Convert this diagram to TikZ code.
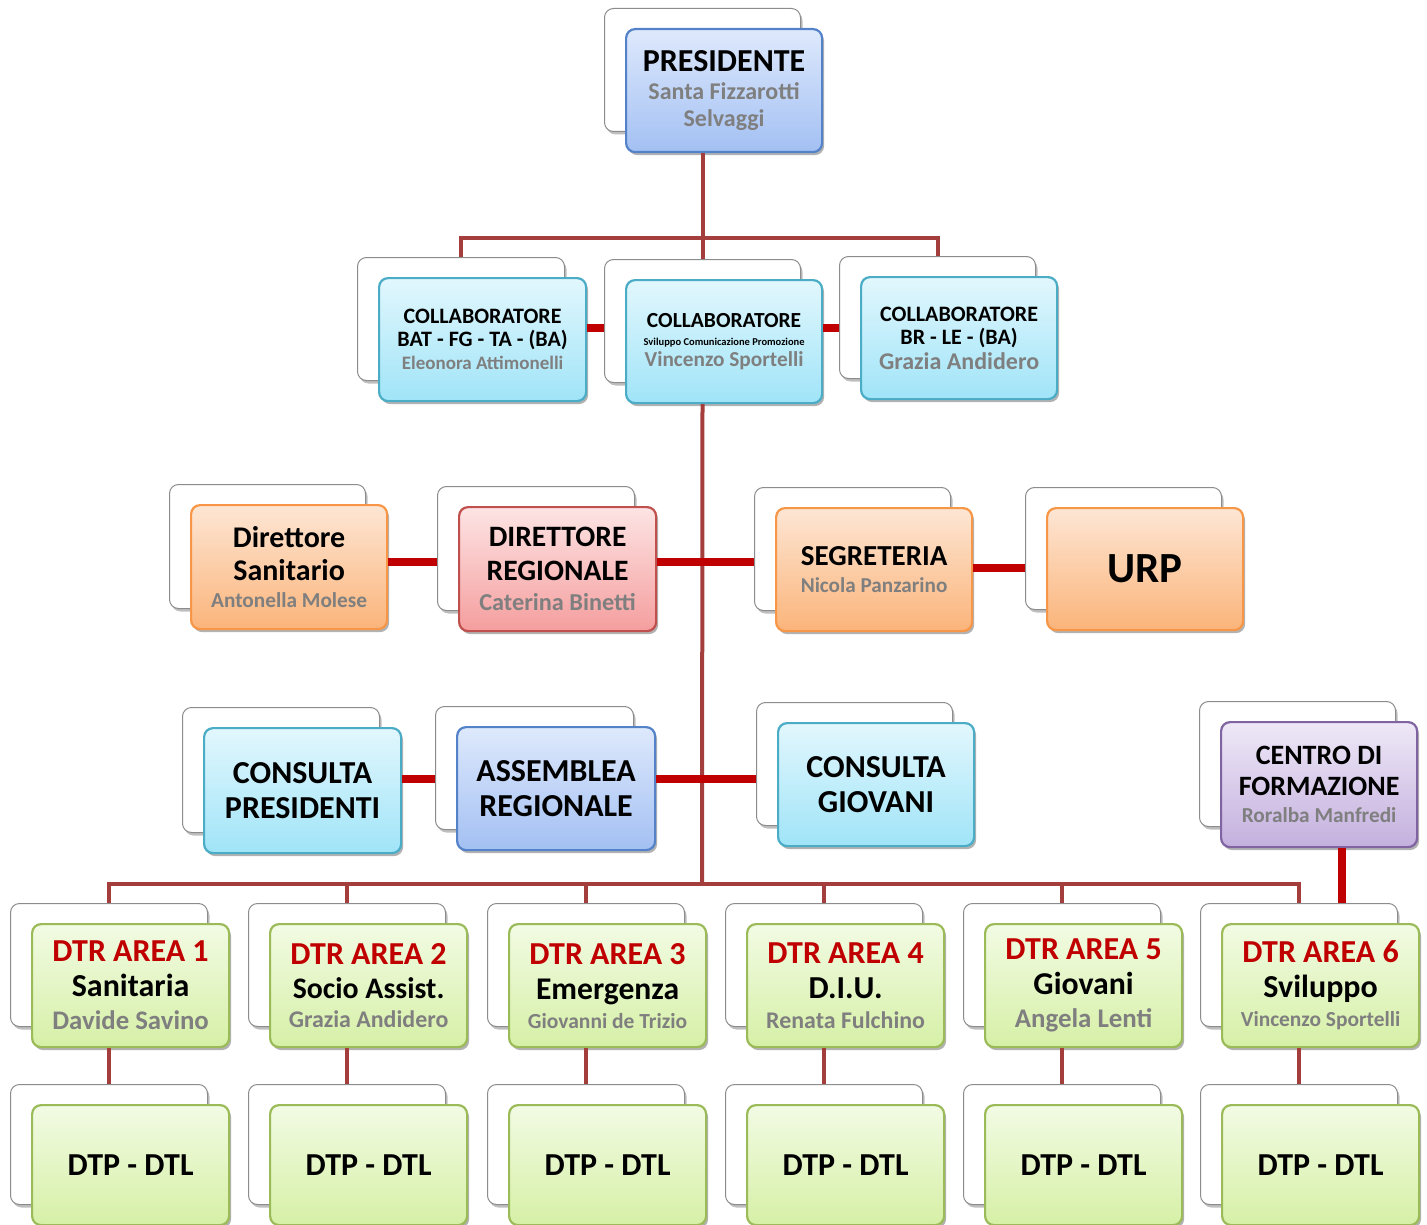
\documentclass[tikz,border=0pt]{standalone}
\usepackage{fontspec}
\setmainfont{Carlito}
\usetikzlibrary{shadows}
\definecolor{connc}{RGB}{163,62,60}
\definecolor{lnkc}{RGB}{192,0,0}
\definecolor{nm}{RGB}{127,127,127}
\definecolor{dtrc}{RGB}{192,0,0}
\definecolor{blueT}{RGB}{222,233,252}\definecolor{blueB}{RGB}{163,192,243}\definecolor{blueD}{RGB}{84,130,200}
\definecolor{cyanT}{RGB}{226,247,253}\definecolor{cyanB}{RGB}{160,228,248}\definecolor{cyanD}{RGB}{75,172,198}
\definecolor{orT}{RGB}{253,230,212}\definecolor{orB}{RGB}{251,180,122}\definecolor{orD}{RGB}{247,150,70}
\definecolor{rdT}{RGB}{253,228,228}\definecolor{rdB}{RGB}{245,158,158}\definecolor{rdD}{RGB}{192,80,77}
\definecolor{puT}{RGB}{238,232,247}\definecolor{puB}{RGB}{196,176,222}\definecolor{puD}{RGB}{128,100,162}
\definecolor{grT}{RGB}{242,251,228}\definecolor{grB}{RGB}{214,240,166}\definecolor{grD}{RGB}{155,187,89}
\newcommand\fsz[2]{\fontsize{#1}{#2}\selectfont}
\newcommand\gry[1]{\textcolor{nm}{#1}}
\tikzset{
  bx/.style={rounded corners=9pt, anchor=north west, inner sep=1pt},
  backbox/.style={bx, draw=black!45, line width=1pt, fill=white,
    drop shadow={shadow xshift=2pt, shadow yshift=-3pt, opacity=0.25, fill=black}},
  front/.style={bx, line width=2.2pt, align=center,
    drop shadow={shadow xshift=2pt, shadow yshift=-3pt, opacity=0.3, fill=black}},
  blueb/.style={front, draw=blueD, top color=blueT, bottom color=blueB},
  cyanb/.style={front, draw=cyanD, top color=cyanT, bottom color=cyanB},
  orb/.style={front, draw=orD, top color=orT, bottom color=orB},
  rdb/.style={front, draw=rdD, top color=rdT, bottom color=rdB},
  pub/.style={front, draw=puD, top color=puT, bottom color=puB},
  grb/.style={front, draw=grD, top color=grT, bottom color=grB},
  fnt/.style n args={2}{font=\bfseries\fontsize{#1}{#2}\selectfont},
  conn/.style={draw=connc, line width=4pt},
  lnk/.style={draw=lnkc, line width=8pt},
}
% name, x, y, w, h, style, text
\newcommand\card[7]{%
  \node[backbox, minimum width=#4pt, minimum height=#5pt] (b#1) at (#2-21,#3-20) {};
  \node[#6, minimum width=#4pt, minimum height=#5pt] (#1) at (#2,#3) {#7};
}
\begin{document}
\begin{tikzpicture}[x=1pt,y=-1pt]
\useasboundingbox (0,0) rectangle (1427,1225);
% top
\card{pres}{625}{28}{196}{123}{blueb,fnt={32}{28}}{PRESIDENTE\\[0pt]\fsz{24}{28}\gry{Santa Fizzarotti}\\[-1pt]\fsz{24}{28}\gry{Selvaggi}}
\card{c1}{378}{277}{207}{123}{cyanb,fnt={22}{23}}{COLLABORATORE\\BAT - FG - TA - (BA)\\\fsz{19}{23}\gry{Eleonora Attimonelli}}
\card{c2}{625}{279}{196}{123}{cyanb,fnt={21.5}{18}}{COLLABORATORE\\[0pt]\fsz{10.5}{18}Sviluppo Comunicazione Promozione\\[3pt]\fsz{21.3}{18}\gry{Vincenzo Sportelli}}
\card{c3}{860}{276}{196}{122}{cyanb,fnt={22}{23}}{COLLABORATORE\\BR - LE - (BA)\\[2pt]\fsz{24}{23}\gry{Grazia Andidero}}
% row 2
\card{ds}{190}{504}{196}{124}{orb,fnt={30}{33}}{Direttore\\Sanitario\\[-6pt]\fsz{21.3}{33}\gry{Antonella Molese}}
\card{dr}{458}{506}{197}{124}{rdb,fnt={29.6}{34}}{DIRETTORE\\REGIONALE\\[-4pt]\fsz{24.3}{34}\gry{Caterina Binetti}}
\card{seg}{775}{507}{196}{123}{orb,fnt={29}{27}}{SEGRETERIA\\\fsz{21.2}{27}\gry{Nicola Panzarino}}
\card{urp}{1046}{507}{196}{122}{orb,fnt={43}{43}}{URP}
% row 3
\card{cp}{203}{727}{197}{125}{cyanb,fnt={32}{35}}{CONSULTA\\PRESIDENTI}
\card{ar}{456}{726}{198}{123}{blueb,fnt={32}{35}}{ASSEMBLEA\\REGIONALE}
\card{cg}{777}{722}{196}{123}{cyanb,fnt={32}{35}}{CONSULTA\\GIOVANI}
\card{cf}{1220}{721}{196}{125}{pub,fnt={28}{31}}{CENTRO DI\\FORMAZIONE\\[-4pt]\fsz{21.3}{31}\gry{Roralba Manfredi}}
% DTR row
\card{d1}{31}{923}{197}{123}{grb,fnt={32}{35}}{\textcolor{dtrc}{DTR AREA 1}\\Sanitaria\\[-2pt]\fsz{26.8}{35}\gry{Davide Savino}}
\card{d2}{269}{923}{197}{123}{grb,fnt={32}{34}}{\textcolor{dtrc}{DTR AREA 2}\\\fsz{29.8}{34}Socio Assist.\\[-5pt]\fsz{23.9}{34}\gry{Grazia Andidero}}
\card{d3}{508}{923}{197}{123}{grb,fnt={32}{35}}{\textcolor{dtrc}{DTR AREA 3}\\\fsz{31.6}{35}Emergenza\\[-6pt]\fsz{21.5}{35}\gry{Giovanni de Trizio}}
\card{d4}{746}{923}{197}{123}{grb,fnt={32}{35}}{\textcolor{dtrc}{DTR AREA 4}\\D.I.U.\\[-5pt]\fsz{23.9}{35}\gry{Renata Fulchino}}
\card{d5}{984}{923}{197}{123}{grb,fnt={32}{35}}{\textcolor{dtrc}{DTR AREA 5}\\\fsz{31.8}{35}Giovani\\[-2pt]\fsz{26.9}{35}\gry{Angela Lenti}}
\card{d6}{1221}{923}{197}{123}{grb,fnt={32}{35}}{\textcolor{dtrc}{DTR AREA 6}\\Sviluppo\\[-6pt]\fsz{21.4}{35}\gry{Vincenzo Sportelli}}
% DTP row
\foreach \i/\x in {1/31,2/269,3/508,4/746,5/984,6/1221}{
  \card{p\i}{\x}{1104}{197}{120}{grb,fnt={32}{32}}{DTP - DTL}
}
% connectors
\coordinate (topbus) at (702,238);
\coordinate (bus) at (702,884);
\draw[conn] (bpres.south |- pres.south) -- (bc2.north);
\draw[conn] (bc1.north) |- (topbus) -| (bc3.north);
\draw[conn] (bc2.south |- c2.south) -- (bus);
\draw[conn] (bd1.north) |- (bus) -| (bd6.north);
\foreach \i in {2,...,5}{
  \draw[conn] (bd\i.north) -- (bd\i.north |- bus);
}
\foreach \i in {1,...,6}{
  \draw[conn] (bd\i.south |- d\i.south) -- (bp\i.north);
}
% red links
\draw[lnk] ([yshift=12pt]c1.east) -- ([yshift=12pt]c1.east -| bc2.west);
\draw[lnk] ([yshift=14pt]c2.east) -- ([yshift=14pt]c2.east -| bc3.west);
\draw[lnk] ([yshift=5pt]ds.east) -- ([yshift=5pt]ds.east -| bdr.west);
\draw[lnk] ([yshift=7pt]dr.east) -- ([yshift=7pt]dr.east -| bseg.west);
\draw[lnk] ([yshift=1.5pt]seg.east) -- ([yshift=1.5pt]seg.east -| burp.west);
\draw[lnk] ([yshift=11.5pt]cp.east) -- ([yshift=11.5pt]cp.east -| bar.west);
\draw[lnk] ([yshift=9.5pt]ar.east) -- ([yshift=9.5pt]ar.east -| bcg.west);
\draw[lnk] ([xshift=23pt]cf.south) -- ([xshift=23pt]cf.south |- bd6.north);
\end{tikzpicture}
\end{document}
